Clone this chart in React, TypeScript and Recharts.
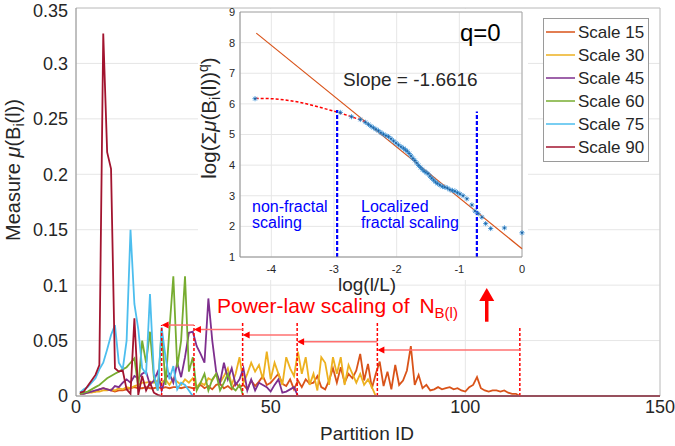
import React from 'react';
import {
  LineChart, Line, XAxis, YAxis, CartesianGrid, ReferenceLine, ReferenceDot, Legend,
  ComposedChart, Scatter,
} from 'recharts';

const FONT = '"Liberation Sans", Arial, Helvetica, sans-serif';

// ---------- main chart data (value per partition ID, starting at ID 1) ----------
const seriesNames = ['Scale 15', 'Scale 30', 'Scale 45', 'Scale 60', 'Scale 75', 'Scale 90'];
const seriesKeys = ['s15', 's30', 's45', 's60', 's75', 's90'];
const seriesColors = ['#D95319', '#EDB120', '#7E2F8E', '#77AC30', '#4DBEEE', '#A2142F'];

const scale15 = [
  0.002, 0.003, 0.003, 0.004, 0.004, 0.006, 0.007, 0.006, 0.005, 0.004,
  0.005, 0.005, 0.006, 0.007, 0.008, 0.007, 0.007, 0.008, 0.007, 0.007,
  0.008, 0.007, 0.008, 0.007, 0.008, 0.008, 0.007, 0.008, 0.008, 0.007,
  0.008, 0.01, 0.007, 0.009, 0.006, 0.01, 0.011, 0.007, 0.009, 0.006,
  0.012, 0.008, 0.01, 0.006, 0.014, 0.009, 0.013, 0.018, 0.01, 0.012,
  0.016, 0.02, 0.011, 0.009, 0.015, 0.006, 0.014, 0.008, 0.015, 0.011,
  0.012, 0.018, 0.008, 0.006, 0.014, 0.025, 0.012, 0.026, 0.012, 0.02,
  0.016, 0.023, 0.038, 0.014, 0.029, 0.007, 0.02, 0.031, 0.009, 0.022,
  0.006, 0.028, 0.01, 0.014, 0.023, 0.045, 0.01, 0.019, 0.007, 0.01,
  0.005, 0.006, 0.008, 0.006, 0.007, 0.008, 0.006, 0.007, 0.005, 0.004,
  0.008, 0.01, 0.017, 0.007, 0.005, 0.004, 0.005, 0.005, 0.004, 0.005,
  0.003, 0.002, 0.002, 0,
];
const scale30 = [
  0.002, 0.002, 0.003, 0.003, 0.004, 0.004, 0.005, 0.005, 0.006, 0.005,
  0.007, 0.006, 0.008, 0.007, 0.009, 0.01, 0.012, 0.012, 0.013, 0.012,
  0.014, 0.012, 0.015, 0.01, 0.016, 0.013, 0.01, 0.015, 0.012, 0.016,
  0.008, 0.012, 0.01, 0.016, 0.014, 0.02, 0.012, 0.018, 0.025, 0.01,
  0.02, 0.035, 0.012, 0.02, 0.03, 0.022, 0.028, 0.015, 0.04, 0.015,
  0.03, 0.02, 0.01, 0.035, 0.025, 0.018, 0.04, 0.02, 0.035, 0.01,
  0.02, 0.005, 0.035, 0.03, 0.01, 0.035, 0.02, 0.035, 0.01, 0.028,
  0.02, 0.012, 0.02, 0.01, 0.015, 0.008, 0,
];
const scale45 = [
  0.002, 0.002, 0.003, 0.004, 0.005, 0.006, 0.007, 0.006, 0.005, 0.009,
  0.008, 0.012, 0.015, 0.012, 0.018, 0.016, 0.02, 0.022, 0.01, 0.014,
  0.022, 0.005, 0.016, 0.02, 0.012, 0.03, 0.017, 0.035, 0.057, 0.058,
  0.045, 0.038, 0.03, 0.088, 0.05, 0.022, 0.012, 0.03, 0.015, 0.025,
  0.01, 0.015, 0.025, 0.005, 0.015, 0.005, 0.012, 0.01, 0.008, 0.004,
  0.01, 0.015, 0.003, 0.004, 0.006, 0.008, 0,
];
const scale60 = [
  0.002, 0.003, 0.004, 0.006, 0.008, 0.01, 0.013, 0.016, 0.018, 0.02,
  0.022, 0.024, 0.026, 0.03, 0.034, 0.008, 0.05, 0.03, 0.058, 0.017,
  0.005, 0.06, 0.01, 0.06, 0.108, 0.026, 0.05, 0.108, 0.022, 0.035,
  0.005, 0.012, 0.02, 0.005, 0.015, 0.02, 0.005, 0.012, 0.02, 0.008,
  0.005, 0.01, 0,
];
const scale75 = [
  0.003, 0.006, 0.008, 0.012, 0.016, 0.024, 0.03, 0.042, 0.055, 0.064,
  0.03, 0.024, 0.05, 0.15, 0.083, 0.06, 0.025, 0.02, 0.092, 0.02,
  0.005, 0.062, 0.035, 0.015, 0.027, 0.006, 0.012, 0.01, 0.005, 0,
];
const scale90 = [
  0.003, 0.004, 0.009, 0.014, 0.019, 0.028, 0.327, 0.22, 0.205, 0.025,
  0.022, 0.023, 0.006, 0.002, 0.07, 0.001, 0.018, 0.005, 0.012, 0.003,
  0.001, 0,
];
const seriesValues = [scale15, scale30, scale45, scale60, scale75, scale90];
const maxPartitionId = 150;

const xTicks = [0, 50, 100, 150];
const yTicks = [0, 0.05, 0.1, 0.15, 0.2, 0.25, 0.3, 0.35];

// partition boundaries (N_B(l)) and arrows between them
const boundaryIds = [22, 30.3, 42.8, 56.8, 77.4, 114];
const boundaryTops = [0.064, 0.064, 0.066, 0.066, 0.066, 0.063];
const arrowFrom = [30.3, 42.8, 56.8, 77.4, 114];
const arrowTo = [22, 30.3, 42.8, 56.8, 77.4];
const arrowLevels = [0.064, 0.06, 0.055, 0.049, 0.0415];
const upArrowId = 105.5;
const upArrowBase = 0.067;
const upArrowTip = 0.0975;

// ---------- inset data ----------
const insetXTicks = [-4, -3, -2, -1, 0];
const insetYTicks = [1, 2, 3, 4, 5, 6, 7, 8, 9];
const insetPtX = [
  -4.26, -2.9, -2.72, -2.58, -2.5, -2.45, -2.41, -2.37, -2.33, -2.29,
  -2.25, -2.21, -2.17, -2.13, -2.09, -2.05, -2.01, -1.97, -1.93, -1.89,
  -1.86, -1.83, -1.8, -1.77, -1.74, -1.71, -1.68, -1.65, -1.62, -1.59,
  -1.56, -1.53, -1.5, -1.47, -1.44, -1.41, -1.38, -1.35, -1.31, -1.27,
  -1.23, -1.19, -1.15, -1.11, -1.07, -1.03, -0.99, -0.94, -0.88, -0.8,
  -0.75, -0.7, -0.64, -0.58, -0.5, -0.28, 0,
];
const insetPtY = [
  6.17, 5.72, 5.58, 5.49, 5.4, 5.33, 5.27, 5.22, 5.17, 5.12,
  5.06, 5.01, 4.96, 4.93, 4.86, 4.79, 4.72, 4.66, 4.6, 4.55,
  4.5, 4.45, 4.38, 4.3, 4.22, 4.15, 4.07, 3.99, 3.92, 3.86,
  3.8, 3.76, 3.72, 3.64, 3.57, 3.51, 3.45, 3.4, 3.35, 3.3,
  3.28, 3.25, 3.2, 3.17, 3.15, 3.1, 3.06, 3.0, 2.9, 2.7,
  2.5, 2.42, 2.3, 2.09, 1.93, 1.95, 1.79,
];
const fitX = [-4.24, 0];
const fitY = [8.31, 1.27];
const curveX = [-4.25, -4.0, -3.75, -3.5, -3.25, -3.0, -2.75, -2.5];
const curveY = [6.18, 6.17, 6.12, 6.03, 5.9, 5.76, 5.6, 5.42];
const blueLineX = [-2.95, -0.72];
const blueLineTop = [5.8, 5.75];

// ---------- tables built from the arrays ----------
const mainTable = Array.from({ length: maxPartitionId }, (_, i) => {
  const row: Record<string, number> = { id: i + 1 };
  seriesKeys.forEach((k, s) => {
    const v = seriesValues[s][i];
    row[k] = v === undefined ? 0 : v;
  });
  return row;
});
const insetPoints = insetPtX.map((x, i) => ({ x, y: insetPtY[i] }));
const fitData = fitX.map((x, i) => ({ x, y: fitY[i] }));
const curveData = curveX.map((x, i) => ({ x, y: curveY[i] }));

const LegendBox = () => (
  <div style={{ width: 106, height: 144, border: '1px solid #9a9a9a', background: '#fff', boxSizing: 'border-box', paddingTop: 1.5 }}>
    {seriesNames.map((n, i) => (
      <div key={n} style={{ display: 'flex', alignItems: 'center', height: 23 }}>
        <svg width={34} height={10} style={{ display: 'block' }}>
          <line x1={2} x2={31} y1={5} y2={5} stroke={seriesColors[i]} strokeWidth={1.5} />
        </svg>
        <span style={{ fontSize: 17, fontFamily: FONT, color: '#262626', lineHeight: '23px' }}>{n}</span>
      </div>
    ))}
  </div>
);

const leftHead = (p: any) => (
  <path d={`M${p.cx},${p.cy} l7,-3.5 l0,7 z`} fill="#FF0000" />
);
const upHead = (p: any) => (
  <path d={`M${p.cx},${p.cy} l-7.5,13 l15,0 z`} fill="#FF0000" />
);
const StarMarker = (p: any) => {
  const { cx, cy } = p;
  const s = 2.6;
  const d = 1.85;
  return (
    <g stroke="#3F93D6" strokeWidth={0.9}>
      <line x1={cx - s} y1={cy} x2={cx + s} y2={cy} />
      <line x1={cx} y1={cy - s} x2={cx} y2={cy + s} />
      <line x1={cx - d} y1={cy - d} x2={cx + d} y2={cy + d} />
      <line x1={cx - d} y1={cy + d} x2={cx + d} y2={cy - d} />
      <circle cx={cx} cy={cy} r={1} fill="#1F5E9A" stroke="none" />
    </g>
  );
};

const tickStyle = { fontSize: 18, fill: '#262626', fontFamily: FONT };
const insetTick = { fontSize: 11, fill: '#262626', fontFamily: FONT };

export default function App() {
  return (
    <div style={{ position: 'absolute', left: 0, top: 0, width: 675, height: 446, background: '#fff', overflow: 'hidden' }}>
      <div style={{ position: 'absolute', left: 0, top: 0 }}>
        <LineChart width={675} height={446} data={mainTable} margin={{ top: 8, right: 15, bottom: 0, left: 0 }}>
          <CartesianGrid stroke="#E6E6E6" />
          <XAxis dataKey="id" type="number" domain={[0, 150]} ticks={xTicks} height={50}
            tickLine={false} tickSize={2} tickMargin={2} axisLine={{ stroke: '#8c8c8c' }} tick={tickStyle} />
          <YAxis type="number" domain={[0, 0.35]} ticks={yTicks} width={76}
            tickLine={false} tickSize={6} tickMargin={2} axisLine={{ stroke: '#8c8c8c' }} tick={tickStyle} />
          <ReferenceLine y={0.35} stroke="#c4c4c4" />
          <ReferenceLine x={150} stroke="#c4c4c4" />
          {seriesKeys.map((k, i) => (
            <Line key={k} dataKey={k} name={seriesNames[i]} stroke={seriesColors[i]} strokeWidth={1.8}
              dot={false} isAnimationActive={false} />
          ))}
          {boundaryIds.map((b, i) => (
            <ReferenceLine key={'b' + i} segment={[{ x: b, y: 0 }, { x: b, y: boundaryTops[i] }]}
              stroke="#FF0000" strokeDasharray="3 2" strokeWidth={1.5} />
          ))}
          {arrowFrom.map((f, i) => (
            <ReferenceLine key={'a' + i} segment={[{ x: f, y: arrowLevels[i] }, { x: arrowTo[i] + 1.5, y: arrowLevels[i] }]}
              stroke="#FF7070" strokeWidth={1.5} />
          ))}
          {arrowTo.map((t, i) => (
            <ReferenceDot key={'h' + i} x={t} y={arrowLevels[i]} r={3} shape={leftHead} />
          ))}
          <ReferenceLine segment={[{ x: upArrowId, y: upArrowBase }, { x: upArrowId, y: upArrowTip - 0.009 }]}
            stroke="#FF0000" strokeWidth={3.5} />
          <ReferenceDot x={upArrowId} y={upArrowTip} r={3} shape={upHead} />
          <Legend content={LegendBox} layout="horizontal" verticalAlign="middle" align="center"
            wrapperStyle={{ left: 543, top: 18, width: 106, height: 144 }} />
        </LineChart>
      </div>

      <div style={{ position: 'absolute', left: 198, top: 9, width: 330, height: 271, background: '#fff' }} />

      <div style={{ position: 'absolute', left: 196, top: 0 }}>
        <ComposedChart width={330} height={290} margin={{ top: 12, right: 4, bottom: 0, left: 14 }}>
          <CartesianGrid stroke="#E6E6E6" />
          <XAxis dataKey="x" type="number" domain={[-4.5, 0]} ticks={insetXTicks} height={33}
            tickLine={false} tickSize={6} tickMargin={2} axisLine={{ stroke: '#8c8c8c' }} tick={insetTick} />
          <YAxis dataKey="y" type="number" domain={[1, 9]} ticks={insetYTicks} width={30}
            tickLine={false} tickSize={4} tickMargin={1} axisLine={{ stroke: '#8c8c8c' }} tick={insetTick} />
          <ReferenceLine y={9} stroke="#a8a8a8" />
          <ReferenceLine x={0} stroke="#a8a8a8" />
          <Line data={fitData} dataKey="y" type="linear" stroke="#D95319" strokeWidth={1.2} dot={false} isAnimationActive={false} />
          <Line data={curveData} dataKey="y" type="monotone" stroke="#FF0000" strokeWidth={1.5} strokeDasharray="3 2" dot={false} isAnimationActive={false} />
          <Scatter data={insetPoints} dataKey="y" shape={StarMarker} isAnimationActive={false} />
          {blueLineX.map((bx, i) => (
            <ReferenceLine key={'bl' + i} segment={[{ x: bx, y: 1 }, { x: bx, y: blueLineTop[i] }]}
              stroke="#0000FF" strokeWidth={2.2} strokeDasharray="4 2" />
          ))}
        </ComposedChart>
      </div>

      <svg width={675} height={446} style={{ position: 'absolute', left: 0, top: 0, pointerEvents: 'none' }} fontFamily={FONT}>
        <text transform="rotate(-90)" x={-170} y={20} textAnchor="middle" fontSize={20} fill="#262626">
          Measure <tspan fontStyle="italic">μ</tspan>(B<tspan fontSize={14} dy={4}>i</tspan><tspan dy={-4}>(l))</tspan>
        </text>
        <text x={367} y={440} textAnchor="middle" fontSize={19} fill="#262626">Partition ID</text>
        <text x={217} y={313} fontSize={21} fill="#FF0000">
          Power-law scaling of <tspan dx={4}>N</tspan><tspan fontSize={15} dy={5}>B(l)</tspan>
        </text>
        <text transform="rotate(-90)" x={-118} y={216} textAnchor="middle" fontSize={20.5} fill="#262626">
          log(Σ<tspan fontStyle="italic">μ</tspan>(B<tspan fontSize={14} dy={4}>i</tspan><tspan dy={-4}>(l))</tspan><tspan fontSize={14} dy={-8}>q</tspan><tspan dy={8}>)</tspan>
        </text>
        <text x={367} y={291} textAnchor="middle" fontSize={19} fill="#262626">log(l/L)</text>
        <text x={460} y={41} fontSize={24} fill="#000">q=0</text>
        <text x={343} y={86} fontSize={19} fill="#262626">Slope = -1.6616</text>
        <text x={252} y={212} fontSize={16} fill="#0000FF">non-fractal</text>
        <text x={252} y={228} fontSize={16} fill="#0000FF">scaling</text>
        <text x={361} y={212} fontSize={16} fill="#0000FF">Localized</text>
        <text x={361} y={228} fontSize={16} fill="#0000FF">fractal scaling</text>
      </svg>
    </div>
  );
}
